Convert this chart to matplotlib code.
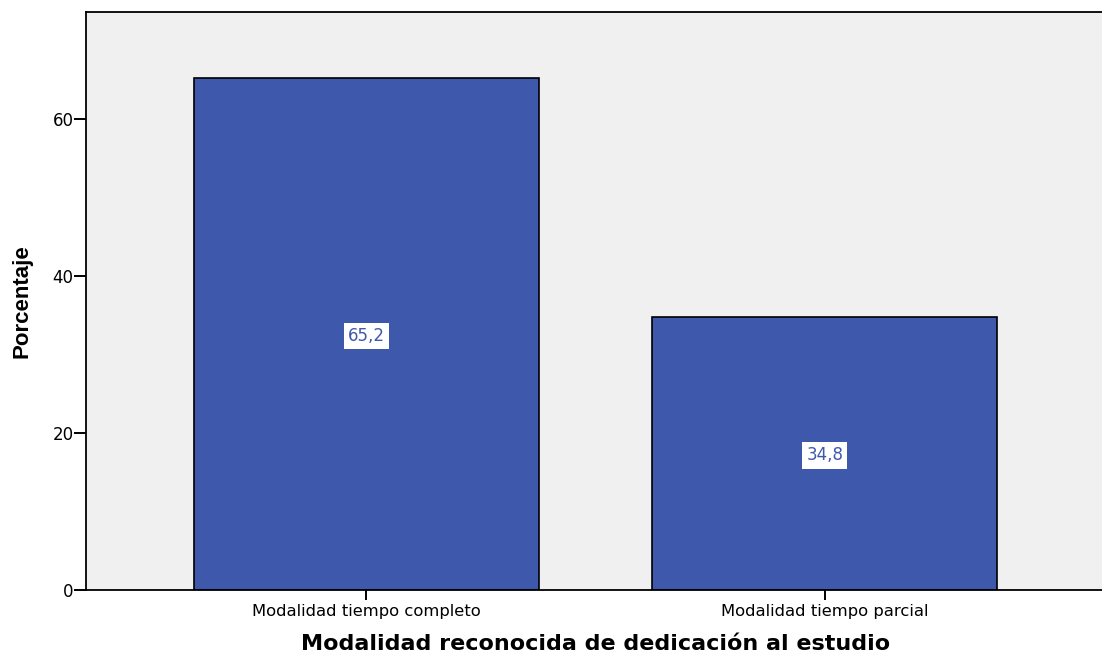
import numpy as np
import matplotlib
matplotlib.use("Agg")
import matplotlib.pyplot as plt

# data
categorias = ["Modalidad tiempo completo", "Modalidad tiempo parcial"]
porcentajes = [65.2, 34.8]
etiquetas = ["65,2", "34,8"]
yticks = [0, 20, 40, 60]

BAR = "#3E58AC"
BG = "#F0F0F0"
NARROW = ["Liberation Sans Narrow", "Liberation Sans", "DejaVu Sans"]

plt.rcParams["font.family"] = ["DejaVu Sans"]

fig = plt.figure(figsize=(11.02, 6.55), dpi=100)
ax = fig.add_axes([0.078, 0.0992, 0.925, 0.8825])
ax.set_facecolor(BG)

x = np.arange(len(categorias))
ax.bar(x, porcentajes, width=0.752, color=BAR, edgecolor="black", linewidth=1.2, zorder=2)

# value labels in white boxes at half bar height
for xi, v, lab in zip(x, porcentajes, etiquetas):
    ax.text(xi, v / 2, lab, ha="center", va="center_baseline", fontsize=12, color=BAR,
            bbox=dict(facecolor="white", edgecolor="none", pad=3.0), zorder=3)

ax.set_xlim(-0.612, 1.612)
ax.set_ylim(0, 73.6)
ax.set_xticks(x)
ax.set_xticklabels(categorias, fontsize=11.8)
ax.set_yticks(yticks)
ax.set_yticklabels([str(t) for t in yticks], fontsize=12)
ax.tick_params(axis="x", length=7, width=1.4, pad=3)
ax.tick_params(axis="y", length=9, width=1.4, pad=0)

for side in ["left", "top", "bottom"]:
    ax.spines[side].set_linewidth(1.3)
ax.spines["right"].set_visible(False)

ax.set_xlabel("Modalidad reconocida de dedicación al estudio", fontsize=16,
              fontweight="bold", labelpad=11)
ax.set_ylabel("Porcentaje", fontsize=16, fontweight="bold", family=NARROW, labelpad=14)

fig.savefig("out.png", dpi=100)
